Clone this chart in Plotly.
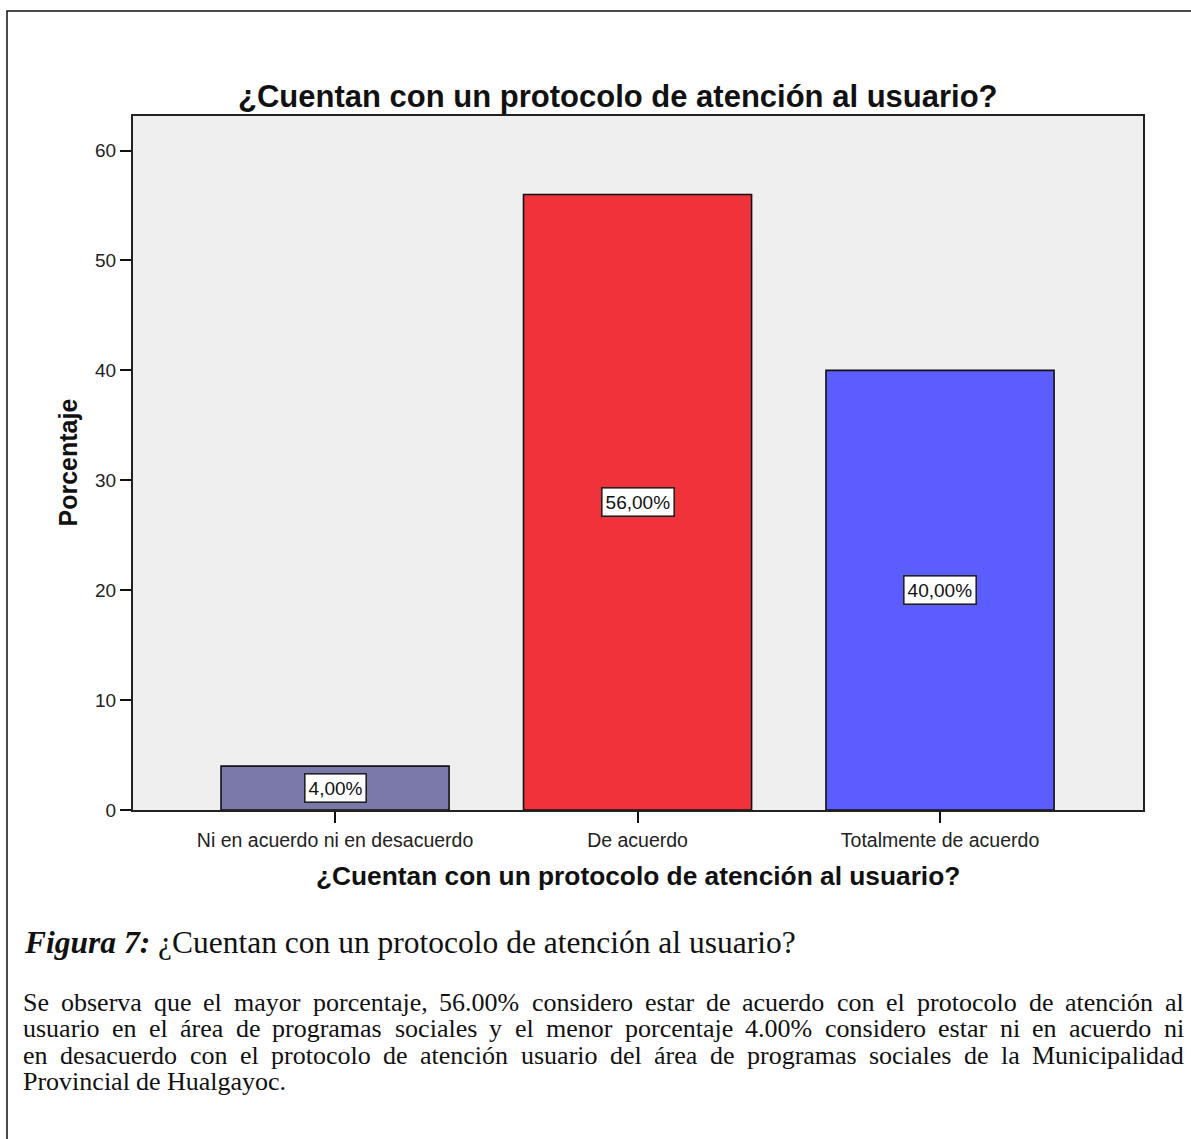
import plotly.graph_objects as go

# Survey answers and their percentages
categories = ["Ni en acuerdo ni en desacuerdo", "De acuerdo", "Totalmente de acuerdo"]
percentages = [4.00, 56.00, 40.00]
bar_colors = ["#7a79a9", "#f0323b", "#5b5dff"]
y_ticks = [0, 10, 20, 30, 40, 50, 60]

chart_title = "¿Cuentan con un protocolo de atención al usuario?"
caption_label = "Figura 7:"
caption_text = "¿Cuentan con un protocolo de atención al usuario?"
paragraph_lines = [
    "Se observa que el mayor porcentaje, 56.00% considero estar de acuerdo con el protocolo de atención al",
    "usuario en el área de programas sociales y el menor porcentaje 4.00% considero estar ni en acuerdo ni",
    "en desacuerdo con el protocolo de atención usuario del área de programas sociales de la Municipalidad",
    "Provincial de Hualgayoc.",
]

W, H = 1191, 1139


def px(x):
    return x / W


def py(y):
    return 1 - y / H


SANS = "Liberation Sans, Arial, sans-serif"
SERIF = "Liberation Serif, Times New Roman, serif"

# Advance widths (1/1000 em) of the serif face, used to justify the paragraph
SERIF_WIDTHS = {
    "a": 444, "b": 500, "c": 444, "d": 500, "e": 444, "f": 333, "g": 500, "h": 500,
    "i": 278, "j": 278, "k": 500, "l": 278, "m": 778, "n": 500, "o": 500, "p": 500,
    "q": 500, "r": 333, "s": 389, "t": 278, "u": 500, "v": 500, "w": 722, "x": 500,
    "y": 500, "z": 444, "á": 444, "é": 444, "í": 278, "ó": 500, "ú": 500,
    "S": 556, "P": 556, "M": 889, "H": 722, ".": 250, ",": 250, "%": 833, " ": 250,
}


def text_width(s, size):
    return sum(SERIF_WIDTHS.get(ch, 500) for ch in s) * size / 1000


fig = go.Figure()
fig.add_trace(go.Bar(
    x=list(range(len(categories))),
    y=percentages,
    width=0.754,
    marker=dict(color=bar_colors, line=dict(color="#111111", width=1.6)),
    hoverinfo="skip",
    showlegend=False,
))

# Value boxes in the middle of each bar
annotations = []
for i, v in enumerate(percentages):
    annotations.append(dict(
        x=i, y=v / 2, xref="x", yref="y",
        text=f"{v:.2f}".replace(".", ",") + "%",
        showarrow=False,
        font=dict(family=SANS, size=19, color="#111111"),
        bgcolor="white", bordercolor="#222222", borderwidth=1.6, borderpad=3,
    ))

# Chart title and axis titles
annotations += [
    dict(x=px(618), y=py(97), xref="paper", yref="paper", text=f"<b>{chart_title}</b>",
         showarrow=False, xanchor="center", yanchor="middle",
         font=dict(family=SANS, size=31, color="#111111")),
    dict(x=px(638), y=py(885), xref="paper", yref="paper", text=f"<b>{chart_title}</b>",
         showarrow=False, xanchor="center", yanchor="middle",
         font=dict(family=SANS, size=26.3, color="#111111")),
    dict(x=px(68), y=py(467), xref="paper", yref="paper", text="<b>Porcentaje</b>",
         showarrow=False, xanchor="center", yanchor="middle", textangle=-90,
         font=dict(family=SANS, size=25, color="#111111")),
]

# Figure caption
annotations.append(dict(
    x=px(22), y=py(952), xref="paper", yref="paper",
    text=f"<b><i>{caption_label}</i></b> {caption_text}",
    showarrow=False, xanchor="left", yanchor="middle",
    font=dict(family=SERIF, size=31.5, color="#111111"),
))

# Commentary paragraph, justified between the left and right text margins
PARA_SIZE = 26
LEFT, RIGHT = 22, 1183
for k, line in enumerate(paragraph_lines):
    words = line.split(" ")
    y_line = py(1012 + k * 26.7)
    if k < len(paragraph_lines) - 1 and len(words) > 1:
        used = sum(text_width(w, PARA_SIZE) for w in words)
        gap = (RIGHT - LEFT - used) / (len(words) - 1)
    else:
        gap = text_width(" ", PARA_SIZE)
    x = LEFT
    for w in words:
        annotations.append(dict(
            x=px(x), y=y_line, xref="paper", yref="paper",
            text=w, showarrow=False, xanchor="left", yanchor="middle",
            font=dict(family=SERIF, size=PARA_SIZE, color="#111111"),
            borderpad=0,
        ))
        x += text_width(w, PARA_SIZE) + gap

fig.update_layout(
    width=W, height=H,
    margin=dict(l=0, r=0, t=0, b=0),
    paper_bgcolor="white",
    plot_bgcolor="#efefef",
    annotations=annotations,
    shapes=[dict(type="rect", xref="paper", yref="paper",
                 x0=px(7), x1=px(1196), y0=py(1160), y1=py(11),
                 line=dict(color="#111111", width=1.5), fillcolor="rgba(0,0,0,0)", layer="below")],
    xaxis=dict(
        domain=[px(133), px(1143)],
        range=[-0.668, 2.671],
        tickmode="array", tickvals=list(range(len(categories))), ticktext=categories,
        ticks="outside", ticklen=11, tickwidth=1.6, tickcolor="#111111",
        showline=True, linecolor="#222222", linewidth=2, mirror=True,
        showgrid=False, zeroline=False,
        tickfont=dict(family=SANS, size=19.5, color="#222222"),
        fixedrange=True,
    ),
    yaxis=dict(
        domain=[py(818), py(117)],
        range=[0, 63.15],
        tickmode="array", tickvals=y_ticks,
        ticks="outside", ticklen=11, tickwidth=1.6, tickcolor="#111111",
        showline=True, linecolor="#222222", linewidth=2, mirror=True,
        showgrid=False, zeroline=False,
        tickfont=dict(family=SANS, size=19, color="#222222"),
        fixedrange=True,
    ),
)

fig.write_html("out.html")
